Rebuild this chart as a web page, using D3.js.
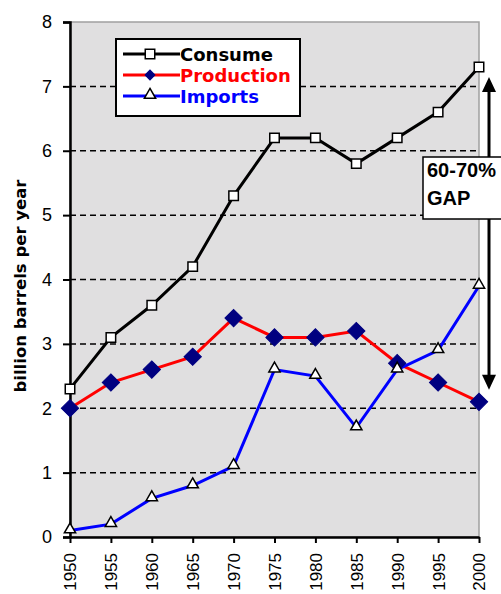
<!DOCTYPE html>
<html>
<head>
<meta charset="utf-8">
<script src="https://cdn.jsdelivr.net/npm/d3@7"></script>
<style>
  html, body { margin: 0; padding: 0; background: #fff; }
  svg { display: block; font-family: "Liberation Sans", Arial, sans-serif; }
</style>
</head>
<body>
<svg id="chart" width="501" height="594"></svg>
<script>
const years = [1950, 1955, 1960, 1965, 1970, 1975, 1980, 1985, 1990, 1995, 2000];
const consume = [2.3, 3.1, 3.6, 4.2, 5.3, 6.2, 6.2, 5.8, 6.2, 6.6, 7.3];
const production = [2.0, 2.4, 2.6, 2.8, 3.4, 3.1, 3.1, 3.2, 2.7, 2.4, 2.1];
const imports = [0.1, 0.2, 0.6, 0.8, 1.1, 2.6, 2.5, 1.7, 2.6, 2.9, 3.9];
const yTicks = [0, 1, 2, 3, 4, 5, 6, 7, 8];
const seriesNames = ["Consume", "Production", "Imports"];
const yLabel = "billion barrels per year";
const gapLines = ["60-70%", "GAP"];

const svg = d3.select("#chart");
const pLeft = 70, pRight = 479, pTop = 22, pBottom = 537;
const boldFont = "'DejaVu Sans', Verdana, sans-serif";

const x = d3.scalePoint().domain(years).range([pLeft, pRight]);
const y = d3.scaleLinear().domain([0, 8]).range([pBottom, pTop]);

// plot background
svg.append("rect")
  .attr("x", pLeft).attr("y", pTop)
  .attr("width", pRight - pLeft).attr("height", pBottom - pTop)
  .attr("fill", "#e0dfe0").attr("stroke", "#a0a0a0").attr("stroke-width", 1.5);

// grid lines
svg.append("g").selectAll("line")
  .data(yTicks.filter(d => d > 0 && d < 8))
  .join("line")
  .attr("x1", pLeft).attr("x2", pRight)
  .attr("y1", d => y(d)).attr("y2", d => y(d))
  .attr("stroke", "#000").attr("stroke-width", 1.5)
  .attr("stroke-dasharray", "6,4");

// y axis
const yAxis = svg.append("g")
  .attr("transform", `translate(${pLeft},0)`)
  .call(d3.axisLeft(y).tickValues(yTicks).tickSize(7).tickPadding(11).tickFormat(d3.format("d")));
yAxis.select(".domain").attr("stroke", "#000").attr("stroke-width", 2.5);
yAxis.selectAll(".tick line").attr("stroke", "#000").attr("stroke-width", 2);
yAxis.selectAll(".tick text").attr("font-size", 18).attr("fill", "#000")
  .attr("font-family", "'Liberation Sans', Arial, sans-serif");

// x axis
const xAxis = svg.append("g")
  .attr("transform", `translate(0,${pBottom})`)
  .call(d3.axisBottom(x).tickSize(6).tickSizeOuter(0));
xAxis.select(".domain").attr("stroke", "#000").attr("stroke-width", 2.5);
xAxis.selectAll(".tick line").attr("stroke", "#000").attr("stroke-width", 2);
xAxis.selectAll(".tick text")
  .attr("font-size", 17).attr("fill", "#000")
  .attr("font-family", "'Liberation Sans', Arial, sans-serif")
  .attr("transform", "rotate(-90)")
  .attr("text-anchor", "end")
  .attr("x", -16).attr("y", 0).attr("dy", "0.35em");

// y label
svg.append("text")
  .attr("transform", `translate(26,${286}) rotate(-90)`)
  .attr("text-anchor", "middle")
  .attr("font-family", boldFont)
  .attr("font-size", 16.5).attr("font-weight", "bold")
  .text(yLabel);

const line = d3.line().x((d, i) => x(years[i])).y(d => y(d));

// lines
svg.append("path").datum(production).attr("d", line)
  .attr("fill", "none").attr("stroke", "#ff0000").attr("stroke-width", 3);
svg.append("path").datum(imports).attr("d", line)
  .attr("fill", "none").attr("stroke", "#0000ff").attr("stroke-width", 3);
svg.append("path").datum(consume).attr("d", line)
  .attr("fill", "none").attr("stroke", "#000").attr("stroke-width", 3);

const sq = d3.symbol().type(d3.symbolSquare).size(90);
const dia = d3.symbol().type(d3.symbolSquare).size(150);
const tri = d3.symbol().type(d3.symbolTriangle).size(55);

svg.append("g").selectAll("path").data(production).join("path")
  .attr("d", dia)
  .attr("transform", (d, i) => `translate(${x(years[i])},${y(d)}) rotate(45)`)
  .attr("fill", "#000080").attr("stroke", "#000080").attr("stroke-width", 1);
svg.append("g").selectAll("path").data(imports).join("path")
  .attr("d", tri)
  .attr("transform", (d, i) => `translate(${x(years[i])},${y(d) - 1})`)
  .attr("fill", "#fff").attr("stroke", "#000").attr("stroke-width", 1.5);
svg.append("g").selectAll("path").data(consume).join("path")
  .attr("d", sq)
  .attr("transform", (d, i) => `translate(${x(years[i])},${y(d)})`)
  .attr("fill", "#fff").attr("stroke", "#000").attr("stroke-width", 1.5);

// legend
const legend = svg.append("g");
legend.append("rect")
  .attr("x", 116).attr("y", 39).attr("width", 184).attr("height", 77)
  .attr("fill", "#fff").attr("stroke", "#000").attr("stroke-width", 2);
const colors = ["#000", "#ff0000", "#0000ff"];
const syms = [sq, d3.symbol().type(d3.symbolSquare).size(42), tri];
const symRot = [0, 45, 0];
const symFill = ["#fff", "#000080", "#fff"];
const symStroke = ["#000", "#000080", "#000"];
seriesNames.forEach((name, i) => {
  const ly = 54 + i * 21;
  legend.append("line").attr("x1", 123).attr("x2", 180).attr("y1", ly).attr("y2", ly)
    .attr("stroke", colors[i]).attr("stroke-width", 3);
  legend.append("path").attr("d", syms[i])
    .attr("transform", `translate(150,${ly - (i === 2 ? 1 : 0)}) rotate(${symRot[i]})`)
    .attr("fill", symFill[i]).attr("stroke", symStroke[i]).attr("stroke-width", 1.5);
  legend.append("text").attr("x", 180).attr("y", ly + 7)
    .attr("font-family", boldFont)
    .attr("font-size", 18).attr("font-weight", "bold").attr("fill", colors[i])
    .text(name);
});

// gap arrow
const ax = 489;
const ay1 = y(consume[consume.length - 1]) + 10, ay2 = y(production[production.length - 1]) - 12;
svg.append("line").attr("x1", ax).attr("x2", ax).attr("y1", ay1 + 12).attr("y2", ay2 - 12)
  .attr("stroke", "#000").attr("stroke-width", 3);
svg.append("path")
  .attr("d", `M${ax},${ay1} L${ax - 7},${ay1 + 15} L${ax + 7},${ay1 + 15} Z`).attr("fill", "#000");
svg.append("path")
  .attr("d", `M${ax},${ay2} L${ax - 7},${ay2 - 15} L${ax + 7},${ay2 - 15} Z`).attr("fill", "#000");

// gap box
svg.append("rect").attr("x", 423).attr("y", 157).attr("width", 90).attr("height", 62)
  .attr("fill", "#fff").attr("stroke", "#000").attr("stroke-width", 1.5);
gapLines.forEach((t, i) => {
  svg.append("text").attr("x", 427).attr("y", 177 + i * 28)
    .attr("font-size", 20).attr("font-weight", "bold").text(t);
});
</script>
</body>
</html>
